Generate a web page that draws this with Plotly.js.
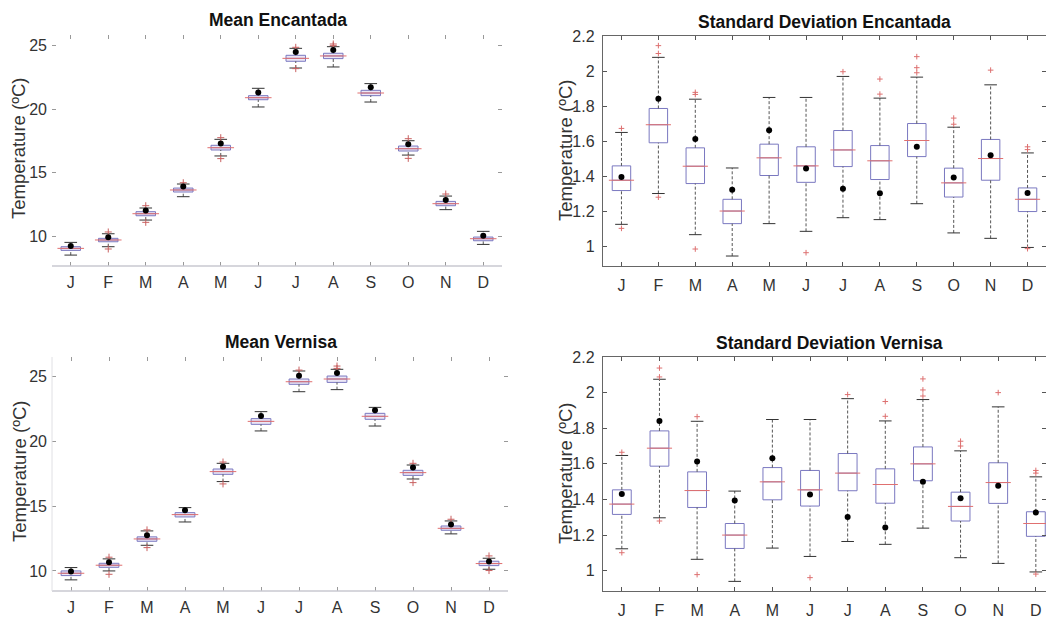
<!DOCTYPE html>
<html>
<head>
<meta charset="utf-8">
<script src="https://cdn.plot.ly/plotly-3.0.1.min.js"></script>
<style>html,body{margin:0;padding:0;background:#fff;}#chart{width:1046px;height:619px;}</style>
</head>
<body>
<div id="chart"></div>
<script>
// ---------- categories ----------
const months = ['J','F','M','A','M','J','J','A','S','O','N','D'];
const monthPos = [1,2,3,4,5,6,7,8,9,10,11,12];

// ---------- Mean Encantada ----------
const encMeanLo  = [8.50, 9.16, 11.26, 13.10, 16.31, 20.17, 23.24, 23.32, 20.56, 16.38, 12.08, 9.34];
const encMeanQ1  = [8.87, 9.55, 11.60, 13.47, 16.78, 20.74, 23.77, 23.98, 21.06, 16.70, 12.39, 9.63];
const encMeanMed = [9.03, 9.69, 11.76, 13.63, 16.96, 20.90, 24.00, 24.19, 21.27, 16.88, 12.55, 9.79];
const encMeanQ3  = [9.16, 9.82, 11.92, 13.78, 17.15, 21.06, 24.24, 24.40, 21.48, 17.09, 12.73, 9.92];
const encMeanHi  = [9.50, 10.18, 12.21, 14.10, 17.62, 21.64, 24.79, 24.92, 22.01, 17.51, 13.15, 10.37];
const encMeanDot = [9.21, 9.90, 12.02, 13.91, 17.30, 21.30, 24.50, 24.66, 21.72, 17.23, 12.84, 10.03];
const encMeanOutMonth = [2, 2, 3, 3, 4, 5, 5, 7, 7, 8, 8, 10, 10, 11];
const encMeanOutVal   = [10.32, 8.98, 12.39, 11.08, 14.20, 17.75, 16.10, 24.87, 23.19, 25.13, 25.00, 17.67, 16.12, 13.31];

// ---------- Standard Deviation Encantada ----------
const encSdLo  = [1.124, 1.300, 1.065, 0.943, 1.128, 1.084, 1.162, 1.151, 1.242, 1.075, 1.044, 0.992];
const encSdQ1  = [1.317, 1.590, 1.357, 1.128, 1.403, 1.364, 1.454, 1.380, 1.511, 1.280, 1.376, 1.197];
const encSdMed = [1.376, 1.693, 1.456, 1.200, 1.504, 1.458, 1.549, 1.487, 1.603, 1.361, 1.500, 1.267];
const encSdQ3  = [1.458, 1.786, 1.561, 1.267, 1.582, 1.567, 1.660, 1.574, 1.700, 1.445, 1.609, 1.332];
const encSdHi  = [1.649, 2.078, 1.839, 1.446, 1.849, 1.849, 1.969, 1.845, 1.965, 1.679, 1.921, 1.532];
const encSdDot = [1.395, 1.841, 1.612, 1.322, 1.662, 1.443, 1.328, 1.301, 1.567, 1.391, 1.519, 1.303];
const encSdOutMonth = [1, 1, 2, 2, 2, 3, 3, 3, 6, 7, 8, 8, 9, 9, 9, 10, 10, 11, 12, 12, 12];
const encSdOutVal   = [1.672, 1.101, 2.145, 2.100, 1.279, 1.878, 1.866, 0.983, 0.962, 1.996, 1.954, 1.868, 2.082, 2.019, 1.990, 1.731, 1.696, 2.005, 1.567, 1.551, 0.985];

// ---------- Mean Vernisa ----------
const verMeanLo  = [9.31, 10.00, 11.98, 13.78, 16.90, 20.81, 23.84, 24.00, 21.19, 17.10, 12.86, 10.13];
const verMeanQ1  = [9.64, 10.28, 12.29, 14.17, 17.46, 21.32, 24.41, 24.56, 21.71, 17.38, 13.14, 10.41];
const verMeanMed = [9.82, 10.44, 12.47, 14.35, 17.67, 21.55, 24.61, 24.82, 21.94, 17.59, 13.29, 10.57];
const verMeanQ3  = [10.00, 10.59, 12.63, 14.50, 17.87, 21.76, 24.82, 25.05, 22.17, 17.77, 13.47, 10.75];
const verMeanHi  = [10.26, 10.93, 13.09, 14.89, 18.31, 22.30, 25.44, 25.57, 22.63, 18.18, 13.86, 10.98];
const verMeanDot = [9.95, 10.67, 12.75, 14.68, 18.05, 21.96, 25.08, 25.28, 22.40, 17.98, 13.58, 10.72];
const verMeanOutMonth = [2, 2, 3, 3, 5, 5, 7, 8, 8, 10, 10, 11, 12, 12];
const verMeanOutVal   = [11.06, 9.74, 13.17, 11.80, 18.41, 16.72, 25.51, 25.82, 25.64, 18.31, 16.82, 13.99, 11.16, 10.03];

// ---------- Standard Deviation Vernisa ----------
const verSdLo  = [1.123, 1.297, 1.064, 0.940, 1.127, 1.080, 1.164, 1.148, 1.239, 1.073, 1.041, 0.993];
const verSdQ1  = [1.316, 1.587, 1.355, 1.125, 1.398, 1.363, 1.449, 1.379, 1.505, 1.279, 1.378, 1.193];
const verSdMed = [1.374, 1.688, 1.450, 1.200, 1.499, 1.454, 1.548, 1.484, 1.600, 1.361, 1.495, 1.265];
const verSdQ3  = [1.454, 1.785, 1.555, 1.265, 1.579, 1.563, 1.658, 1.572, 1.695, 1.441, 1.606, 1.331];
const verSdHi  = [1.647, 2.075, 1.839, 1.447, 1.849, 1.849, 1.966, 1.841, 1.961, 1.673, 1.920, 1.527];
const verSdDot = [1.430, 1.841, 1.613, 1.394, 1.632, 1.428, 1.301, 1.243, 1.499, 1.407, 1.477, 1.327];
const verSdOutMonth = [1, 1, 2, 2, 2, 3, 3, 6, 7, 8, 8, 9, 9, 9, 10, 10, 11, 12, 12, 12];
const verSdOutVal   = [1.665, 1.101, 2.138, 2.088, 1.279, 1.865, 0.978, 0.961, 1.989, 1.950, 1.867, 2.077, 2.015, 1.981, 1.727, 1.700, 2.000, 1.563, 1.548, 0.981];

// ---------- tick values ----------
const meanTicks = [10, 15, 20, 25];
const sdTicks = [1, 1.2, 1.4, 1.6, 1.8, 2, 2.2];
const sdTickText = ['1', '1.2', '1.4', '1.6', '1.8', '2', '2.2'];

// ---------- styling ----------
const FONT = 'Liberation Sans, Arial, Helvetica, sans-serif';
const BOX_BLUE = '#7a78c0';
const MED_RED = '#e07070';
const WHISK = '#555555';

function panelTraces(xa, ya, lo, q1, med, q3, hi, dot, outM, outV, opt) {
  const traces = [];
  traces.push({
    type: 'box', xaxis: xa, yaxis: ya, x: monthPos,
    q1: q1, median: med, q3: q3, lowerfence: q1, upperfence: q3,
    width: opt.boxW, boxpoints: false, whiskerwidth: 0,
    line: {color: BOX_BLUE, width: 1}, fillcolor: opt.fill,
    hoverinfo: 'skip', showlegend: false
  });
  const wx = [], wy = [];
  monthPos.forEach((m, i) => {
    wx.push(m, m, null, m, m, null);
    wy.push(q3[i], hi[i], null, lo[i], q1[i], null);
  });
  traces.push({
    type: 'scatter', mode: 'lines', xaxis: xa, yaxis: ya, x: wx, y: wy,
    line: {color: WHISK, width: 1, dash: '3px,2px'}, hoverinfo: 'skip', showlegend: false
  });
  traces.push({
    type: 'scatter', mode: 'markers', xaxis: xa, yaxis: ya,
    x: monthPos.concat(monthPos), y: hi.concat(lo),
    marker: {symbol: 'line-ew', size: 9, line: {color: '#333', width: 1}},
    hoverinfo: 'skip', showlegend: false
  });
  traces.push({
    type: 'scatter', mode: 'markers', xaxis: xa, yaxis: ya, x: monthPos, y: med,
    marker: {symbol: 'line-ew', size: opt.medPx, line: {color: MED_RED, width: 1}},
    hoverinfo: 'skip', showlegend: false
  });
  traces.push({
    type: 'scatter', mode: 'markers', xaxis: xa, yaxis: ya, x: outM, y: outV,
    marker: {symbol: 'cross-thin', size: opt.outSize, line: {color: opt.outColor, width: 1}},
    hoverinfo: 'skip', showlegend: false
  });
  traces.push({
    type: 'scatter', mode: 'markers', xaxis: xa, yaxis: ya, x: monthPos, y: dot,
    marker: {symbol: 'circle', size: 6, color: '#000'},
    hoverinfo: 'skip', showlegend: false
  });
  return traces;
}

const meanOpt = {boxW: 0.52, medPx: 19, outSize: 5, outColor: '#c86060', fill: 'rgba(220,212,238,0.55)'};
const sdOpt = {boxW: 0.5, medPx: 18, outSize: 4, outColor: '#dd7070', fill: 'rgba(0,0,0,0)'};

const data = [].concat(
  panelTraces('x', 'y', encMeanLo, encMeanQ1, encMeanMed, encMeanQ3, encMeanHi, encMeanDot, encMeanOutMonth, encMeanOutVal, meanOpt),
  panelTraces('x2', 'y2', encSdLo, encSdQ1, encSdMed, encSdQ3, encSdHi, encSdDot, encSdOutMonth, encSdOutVal, sdOpt),
  panelTraces('x3', 'y3', verMeanLo, verMeanQ1, verMeanMed, verMeanQ3, verMeanHi, verMeanDot, verMeanOutMonth, verMeanOutVal, meanOpt),
  panelTraces('x4', 'y4', verSdLo, verSdQ1, verSdMed, verSdQ3, verSdHi, verSdDot, verSdOutMonth, verSdOutVal, sdOpt)
);

const W = 1046, H = 619;
const px = v => v / W;
const py = v => 1 - v / H;
const tickFont = {family: FONT, size: 16, color: '#333'};

function xAxis(anchor, d0, d1, r1, lineOn) {
  return {
    anchor: anchor, domain: [px(d0), Math.min(1, px(d1))], range: [0.5, r1],
    tickvals: monthPos, ticktext: months, ticks: 'inside', ticklen: 4,
    tickcolor: lineOn ? '#555' : '#999', mirror: 'ticks',
    showline: lineOn, linecolor: '#666', linewidth: 1.2,
    showgrid: false, zeroline: false, tickfont: tickFont, ticklabelstandoff: 5,
    fixedrange: true
  };
}
function yAxis(anchor, top, bot, range, tv, tt, lineOn) {
  return {
    anchor: anchor, domain: [py(bot), py(top)], range: range,
    tickvals: tv, ticktext: tt, ticks: 'inside', ticklen: 4,
    tickcolor: lineOn ? '#555' : '#999', mirror: 'ticks',
    showline: lineOn, linecolor: '#666', linewidth: 1.2,
    showgrid: false, zeroline: false, tickfont: tickFont, ticklabelstandoff: 4,
    fixedrange: true
  };
}

const titleFont = {family: FONT, size: 17.5, color: '#111'};
const ytFont = {family: FONT, size: 18.5, color: '#333'};

const layout = {
  width: W, height: H, margin: {l: 0, r: 0, t: 0, b: 0},
  paper_bgcolor: '#fff', plot_bgcolor: 'rgba(0,0,0,0)', showlegend: false,
  font: {family: FONT, color: '#333'},
  xaxis:  xAxis('y', 52, 502, 12.5, false),
  yaxis:  yAxis('x', 35, 266, [7.64, 25.84], meanTicks, meanTicks.map(String), false),
  xaxis2: xAxis('y2', 603, 1046, 12.5, true),
  yaxis2: yAxis('x2', 36, 266, [0.886, 2.2], sdTicks, sdTickText, true),
  xaxis3: xAxis('y3', 52, 508, 12.5, false),
  yaxis3: yAxis('x3', 357, 591, [8.45, 26.52], meanTicks, meanTicks.map(String), false),
  xaxis4: xAxis('y4', 603, 1046, 12.27, true),
  yaxis4: yAxis('x4', 357, 591, [0.886, 2.2], sdTicks, sdTickText, true),
  shapes: [
    {type: 'line', xref: 'x domain', yref: 'y domain', x0: 0, x1: 1, y0: 0, y1: 0, line: {color: '#c8c8d0', width: 1.5}},
    {type: 'line', xref: 'x3 domain', yref: 'y3 domain', x0: 0, x1: 1, y0: 0, y1: 0, line: {color: '#c8c8d0', width: 1.5}},
    {type: 'line', xref: 'x3 domain', yref: 'y3 domain', x0: 0, x1: 0, y0: 0, y1: 1, line: {color: '#e0e0e4', width: 1}}
  ],
  annotations: [
    {text: '<b>Mean Encantada</b>', xref: 'paper', yref: 'paper', x: px(278), y: py(20), xanchor: 'center', yanchor: 'middle', showarrow: false, font: titleFont},
    {text: '<b>Standard Deviation Encantada</b>', xref: 'paper', yref: 'paper', x: px(824), y: py(22), xanchor: 'center', yanchor: 'middle', showarrow: false, font: titleFont},
    {text: '<b>Mean Vernisa</b>', xref: 'paper', yref: 'paper', x: px(281), y: py(342), xanchor: 'center', yanchor: 'middle', showarrow: false, font: titleFont},
    {text: '<b>Standard Deviation Vernisa</b>', xref: 'paper', yref: 'paper', x: px(829), y: py(343), xanchor: 'center', yanchor: 'middle', showarrow: false, font: titleFont},
    {text: 'Temperature (ºC)', xref: 'paper', yref: 'paper', x: px(19), y: py(149), xanchor: 'center', yanchor: 'middle', textangle: -90, showarrow: false, font: ytFont},
    {text: 'Temperature (ºC)', xref: 'paper', yref: 'paper', x: px(565), y: py(151), xanchor: 'center', yanchor: 'middle', textangle: -90, showarrow: false, font: ytFont},
    {text: 'Temperature (ºC)', xref: 'paper', yref: 'paper', x: px(19), y: py(472), xanchor: 'center', yanchor: 'middle', textangle: -90, showarrow: false, font: ytFont},
    {text: 'Temperature (ºC)', xref: 'paper', yref: 'paper', x: px(565), y: py(474), xanchor: 'center', yanchor: 'middle', textangle: -90, showarrow: false, font: ytFont}
  ]
};

Plotly.newPlot('chart', data, layout, {staticPlot: true, displayModeBar: false});
</script>
</body>
</html>
